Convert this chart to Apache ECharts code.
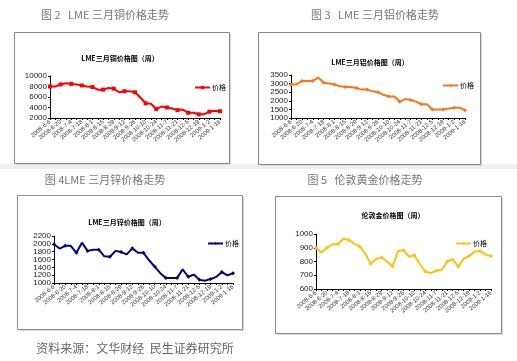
<!DOCTYPE html>
<html><head><meta charset="utf-8">
<script src="https://cdn.jsdelivr.net/npm/echarts@6/dist/echarts.min.js"></script>
<style>html,body{margin:0;padding:0;background:#fff}#c{width:517px;height:361px}</style>
</head><body><div id="c"></div>
<script>
const dates = ['2008-6-6','2008-6-13','2008-6-20','2008-6-27','2008-7-4','2008-7-11','2008-7-18','2008-7-25','2008-8-1','2008-8-8','2008-8-15','2008-8-22','2008-8-29','2008-9-5','2008-9-12','2008-9-19','2008-9-26','2008-10-3','2008-10-10','2008-10-17','2008-10-24','2008-10-31','2008-11-7','2008-11-14','2008-11-21','2008-11-28','2008-12-5','2008-12-12','2008-12-19','2008-12-26','2009-1-2','2009-1-9','2009-1-16'];
const copper = [8000,8000,8400,8600,8500,8400,8200,8000,7900,7400,7400,7700,7600,6900,7100,7100,6900,5900,4800,4700,3700,4200,4000,3800,3500,3600,3000,3000,2700,2700,3200,3400,3300];
const aluminium = [2950,2950,3150,3150,3150,3350,3050,3000,2950,2850,2800,2800,2750,2650,2650,2550,2500,2350,2250,2250,1950,2100,2050,1950,1800,1800,1500,1500,1500,1550,1600,1600,1450];
const zinc = [1990,1880,1950,1950,1770,2030,1820,1850,1850,1680,1670,1820,1790,1730,1885,1775,1770,1580,1420,1250,1125,1125,1125,1350,1160,1215,1080,1060,1100,1155,1280,1195,1250];
const gold = [900,865,900,925,925,965,957,930,910,858,783,818,830,800,763,877,882,835,845,780,727,717,733,740,800,818,763,820,840,872,877,850,840];

const captions = ['图 2   LME 三月铜价格走势','图 3   LME 三月铝价格走势','图 4LME 三月锌价格走势','图 5   伦敦黄金价格走势'];
const innerTitles = ['LME三月铜价格图（周）','LME三月铝价格图（周）','LME三月锌价格图（周）','伦敦金价格图（周）'];
const source = '资料来源：文华财经  民生证券研究所';
const seriesNames = ['铜价格','铝价格','锌价格','金价格'];
const legendLabel = '价格';

const panels = [
  {data: copper, color:'#FF0000', min:2000, max:10000, interval:2000, grid:{left:50,top:76,width:170,height:42}, frame:[14,32,215,131], cap:[105,15], it:[120,58], lg:[189,79], symbol:'rect'},
  {data: aluminium, color:'#FF7418', min:1000, max:3500, interval:500, grid:{left:291,top:75,width:174,height:43}, frame:[258,32,222,132], cap:[375,15], it:[370,62], lg:[437,77], symbol:'diamond'},
  {data: zinc, color:'#000080', min:1000, max:2200, interval:200, grid:{left:54,top:236,width:179,height:47}, frame:[17,195,225,134], cap:[105,180], it:[127,222], lg:[202,235], symbol:'diamond'},
  {data: gold, color:'#FFC20E', min:600, max:1000, interval:100, grid:{left:316,top:234,width:175,height:55}, frame:[275,196,226,137], cap:[365,180], it:[393,215], lg:[450,235], symbol:'diamond'}
];

const graphic = [
  {type:'rect', shape:{x:0,y:164,width:517,height:5}, style:{fill:'#f0f0f0'}, silent:true}
];
panels.forEach((p,i)=>{
  const f=p.frame;
  graphic.push({type:'rect', shape:{x:f[0]+2,y:f[1]+2,width:f[2],height:f[3]}, style:{fill:'#d8d8d8'}, silent:true});
  graphic.push({type:'rect', shape:{x:f[0]+0.5,y:f[1]+0.5,width:f[2],height:f[3]}, style:{fill:'#fff',stroke:'#8a8a8a',lineWidth:1}, silent:true});
  graphic.push({type:'text', x:p.cap[0], y:p.cap[1], style:{text:captions[i], fill:'#777', font:'11px "Noto Sans CJK SC"', textAlign:'center', textVerticalAlign:'middle'}, silent:true});
  graphic.push({type:'text', x:p.it[0], y:p.it[1], style:{text:innerTitles[i], fill:'#000', font:'bold 7px "Noto Sans CJK SC"', textAlign:'center', textVerticalAlign:'middle'}, silent:true});
});
graphic.push({type:'text', x:135, y:348, style:{text:source, fill:'#666', font:'12px "Noto Sans CJK SC"', textAlign:'center', textVerticalAlign:'middle'}, silent:true});

const option = {
  animation:false,
  backgroundColor:'#fff',
  graphic: graphic,
  grid: panels.map(p=>p.grid),
  xAxis: panels.map((p,i)=>({
    type:'category', gridIndex:i, data:dates, boundaryGap:false,
    axisLine:{lineStyle:{color:'#000',width:1}},
    axisTick:{show:true, interval:0, length:2, lineStyle:{color:'#000'}},
    axisLabel:{interval:1, rotate:40, fontSize:6, color:'#333', fontFamily:'Liberation Sans', margin:3},
    splitLine:{show:false}
  })),
  yAxis: panels.map((p,i)=>({
    type:'value', gridIndex:i, min:p.min, max:p.max, interval:p.interval,
    axisLine:{show:true, lineStyle:{color:'#000',width:1}},
    axisTick:{show:true, length:2, lineStyle:{color:'#000'}},
    axisLabel:{fontSize:8, color:'#222', fontFamily:'Liberation Sans', margin:3, formatter:v=>String(v)},
    splitLine:{show:false}
  })),
  legend: panels.map((p,i)=>({
    left:p.lg[0], top:p.lg[1], data:[seriesNames[i]], formatter:()=>legendLabel,
    itemWidth:15, itemHeight:4, itemGap:2,
    textStyle:{fontSize:7, color:'#000', fontFamily:'Noto Sans CJK SC', padding:[0,0,0,-3]}
  })),
  series: panels.map((p,i)=>({
    name:seriesNames[i], type:'line', xAxisIndex:i, yAxisIndex:i, data:p.data,
    symbol:p.symbol, symbolSize:4, showSymbol:true,
    lineStyle:{color:p.color,width:2}, itemStyle:{color:p.color}
  }))
};
echarts.init(document.getElementById('c'),null,{renderer:'canvas'}).setOption(option);
</script></body></html>
